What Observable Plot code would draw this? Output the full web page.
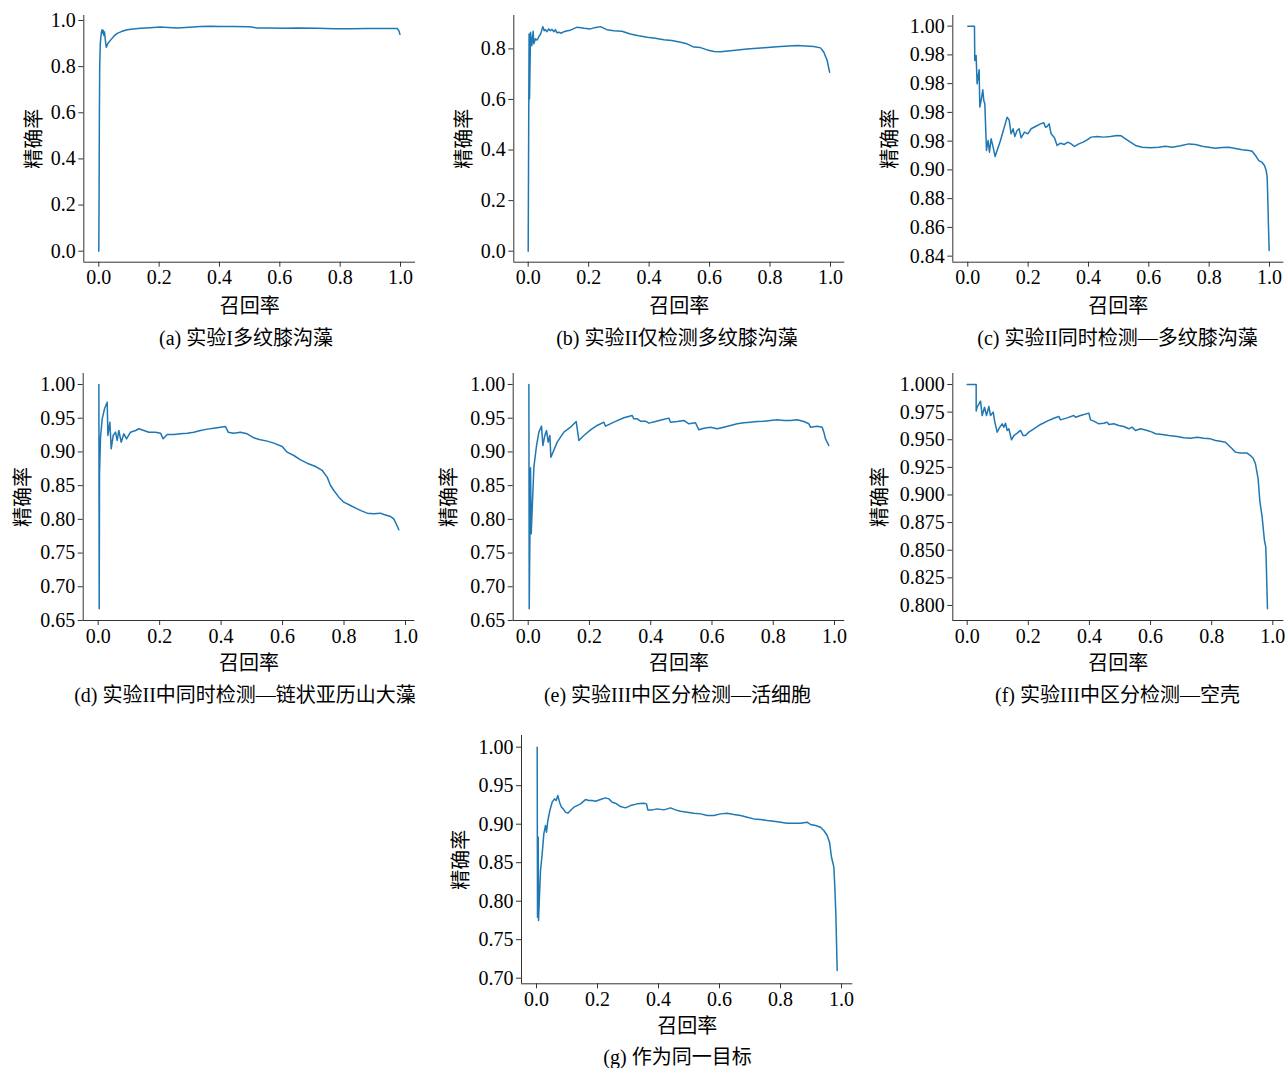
<!DOCTYPE html>
<html><head><meta charset="utf-8">
<script src="https://cdn.jsdelivr.net/npm/d3@7"></script>
<script src="https://cdn.jsdelivr.net/npm/@observablehq/plot@0.6"></script>
<style>
body{margin:0;background:#fff;}
#root{position:relative;width:1286px;height:1068px;overflow:hidden;background:#fff;}
.cap{position:absolute;width:480px;text-align:center;font-family:'Liberation Serif','Noto Sans CJK SC',serif;font-size:20px;line-height:24px;color:#000;white-space:nowrap;}
</style></head><body><div id="root"></div>
<script>
// ---- tick values and labels ----
const xTicks = [0, 0.2, 0.4, 0.6, 0.8, 1.0];
const xTickLabels = ["0.0", "0.2", "0.4", "0.6", "0.8", "1.0"];
const yTicksA = [0, 0.2, 0.4, 0.6, 0.8, 1.0];
const yTickLabelsA = ["0.0", "0.2", "0.4", "0.6", "0.8", "1.0"];
const yTicksB = [0, 0.2, 0.4, 0.6, 0.8];
const yTickLabelsB = ["0.0", "0.2", "0.4", "0.6", "0.8"];
const yTicksC = [0.84, 0.86, 0.88, 0.90, 0.92, 0.94, 0.96, 0.98, 1.00];
const yTickLabelsC = ["0.84", "0.86", "0.88", "0.90", "0.98", "0.98", "0.98", "0.98", "1.00"];
const yTicksDE = [0.65, 0.70, 0.75, 0.80, 0.85, 0.90, 0.95, 1.00];
const yTickLabelsDE = ["0.65", "0.70", "0.75", "0.80", "0.85", "0.90", "0.95", "1.00"];
const yTicksF = [0.800, 0.825, 0.850, 0.875, 0.900, 0.925, 0.950, 0.975, 1.000];
const yTickLabelsF = ["0.800", "0.825", "0.850", "0.875", "0.900", "0.925", "0.950", "0.975", "1.000"];
const yTicksG = [0.70, 0.75, 0.80, 0.85, 0.90, 0.95, 1.00];
const yTickLabelsG = ["0.70", "0.75", "0.80", "0.85", "0.90", "0.95", "1.00"];

const xLabel = "召回率";
const yLabel = "精确率";
const captions = [
  "(a) 实验I多纹膝沟藻",
  "(b) 实验II仅检测多纹膝沟藻",
  "(c) 实验II同时检测—多纹膝沟藻",
  "(d) 实验II中同时检测—链状亚历山大藻",
  "(e) 实验III中区分检测—活细胞",
  "(f) 实验III中区分检测—空壳",
  "(g) 作为同一目标"
];

// ---- series values (recall, precision) ----
const recallA = [0, 0.001, 0.002, 0.003, 0.005, 0.007, 0.009, 0.011, 0.013, 0.015, 0.017, 0.019, 0.021, 0.023, 0.025, 0.03, 0.039, 0.05, 0.061, 0.075, 0.094, 0.115, 0.138, 0.17, 0.204, 0.23, 0.26, 0.3, 0.337, 0.37, 0.403, 0.4475, 0.5, 0.525, 0.56, 0.613, 0.66, 0.724, 0.78, 0.84, 0.889, 0.94, 0.989, 0.995, 0.998];
const precisionA = [0, 0.25, 0.6, 0.8, 0.9, 0.93, 0.95, 0.96, 0.945, 0.957, 0.935, 0.95, 0.925, 0.9, 0.884, 0.9, 0.915, 0.932, 0.944, 0.952, 0.96, 0.963, 0.966, 0.969, 0.972, 0.97, 0.968, 0.971, 0.974, 0.975, 0.974, 0.974, 0.973, 0.968, 0.967, 0.966, 0.967, 0.966, 0.964, 0.964, 0.965, 0.965, 0.965, 0.955, 0.94];

const recallB = [0, 0.0015, 0.003, 0.0044, 0.0077, 0.012, 0.0165, 0.0187, 0.024, 0.03, 0.036, 0.041, 0.0485, 0.053, 0.057, 0.062, 0.068, 0.073, 0.079, 0.085, 0.09, 0.095, 0.101, 0.11, 0.118, 0.13, 0.14, 0.162, 0.185, 0.206, 0.22, 0.239, 0.26, 0.283, 0.31, 0.338, 0.365, 0.394, 0.42, 0.449, 0.475, 0.504, 0.525, 0.548, 0.57, 0.592, 0.615, 0.636, 0.669, 0.724, 0.78, 0.835, 0.89, 0.945, 0.967, 0.978, 0.989, 0.997];
const precisionB = [0, 0.45, 0.859, 0.602, 0.866, 0.813, 0.87, 0.82, 0.84, 0.835, 0.85, 0.859, 0.888, 0.872, 0.876, 0.868, 0.879, 0.872, 0.877, 0.868, 0.876, 0.864, 0.866, 0.862, 0.868, 0.872, 0.874, 0.886, 0.882, 0.879, 0.884, 0.888, 0.876, 0.872, 0.87, 0.859, 0.852, 0.846, 0.842, 0.836, 0.833, 0.826, 0.82, 0.807, 0.805, 0.796, 0.79, 0.789, 0.793, 0.8, 0.804, 0.809, 0.813, 0.809, 0.804, 0.787, 0.754, 0.708];

const recallC = [0, 0.0221, 0.0232, 0.0276, 0.0309, 0.0376, 0.0398, 0.0442, 0.0497, 0.053, 0.0564, 0.0619, 0.0674, 0.0718, 0.0773, 0.084, 0.0906, 0.1083, 0.1304, 0.137, 0.1436, 0.1503, 0.1558, 0.1635, 0.1702, 0.1768, 0.1878, 0.1989, 0.2099, 0.2243, 0.2409, 0.2519, 0.2575, 0.263, 0.2696, 0.2762, 0.2873, 0.2961, 0.3072, 0.3204, 0.3315, 0.3425, 0.3536, 0.368, 0.3823, 0.3956, 0.4088, 0.4287, 0.4508, 0.4729, 0.495, 0.5083, 0.5227, 0.5392, 0.5558, 0.5779, 0.6055, 0.6331, 0.6552, 0.6773, 0.705, 0.7326, 0.7547, 0.7768, 0.7989, 0.821, 0.8431, 0.8652, 0.8873, 0.9094, 0.9315, 0.9425, 0.9536, 0.9646, 0.9757, 0.9834, 0.989, 0.9923, 0.9945, 0.9967, 0.9989];
const precisionC = [1.0, 1.0, 0.9761, 0.9796, 0.9599, 0.9696, 0.9437, 0.9483, 0.9557, 0.9483, 0.946, 0.9135, 0.9205, 0.9123, 0.9216, 0.9158, 0.9093, 0.9205, 0.9367, 0.9348, 0.9251, 0.9286, 0.9232, 0.9274, 0.9286, 0.9223, 0.9263, 0.9251, 0.9286, 0.9302, 0.932, 0.9328, 0.9297, 0.9302, 0.932, 0.9251, 0.9223, 0.917, 0.9186, 0.9177, 0.9193, 0.9181, 0.9163, 0.9181, 0.9193, 0.9209, 0.9228, 0.9232, 0.9228, 0.9232, 0.9239, 0.9237, 0.9216, 0.9193, 0.917, 0.9158, 0.9154, 0.9158, 0.9165, 0.9158, 0.9168, 0.9181, 0.9177, 0.9165, 0.9158, 0.9151, 0.9156, 0.9158, 0.9149, 0.914, 0.9135, 0.913, 0.91, 0.9065, 0.9052, 0.9031, 0.8996, 0.895, 0.8787, 0.8602, 0.8439];

const recallD = [0.0022, 0.0033, 0.0043, 0.0076, 0.013, 0.0206, 0.0293, 0.0315, 0.038, 0.0423, 0.0488, 0.0564, 0.0618, 0.0672, 0.0748, 0.0835, 0.0922, 0.1052, 0.1215, 0.1323, 0.1486, 0.1649, 0.1866, 0.2028, 0.2115, 0.2245, 0.2462, 0.2679, 0.2896, 0.3113, 0.333, 0.3547, 0.3764, 0.398, 0.4143, 0.423, 0.4414, 0.4631, 0.4848, 0.5065, 0.5282, 0.5499, 0.5716, 0.5987, 0.615, 0.6367, 0.6584, 0.68, 0.7072, 0.7289, 0.7451, 0.756, 0.7668, 0.7831, 0.7993, 0.821, 0.8427, 0.859, 0.8753, 0.897, 0.9187, 0.9295, 0.9512, 0.962, 0.9696, 0.9783];
const precisionD = [1.0, 0.6673, 0.8675, 0.9219, 0.9491, 0.9639, 0.9738, 0.9244, 0.9441, 0.9046, 0.9244, 0.9293, 0.917, 0.9318, 0.9145, 0.9268, 0.9194, 0.9293, 0.9318, 0.9343, 0.9318, 0.9293, 0.9293, 0.9278, 0.9194, 0.9258, 0.9258, 0.9268, 0.9278, 0.9293, 0.9318, 0.9338, 0.9352, 0.9367, 0.9377, 0.9293, 0.9278, 0.9293, 0.9268, 0.9209, 0.9179, 0.916, 0.913, 0.9081, 0.8996, 0.8947, 0.8883, 0.8833, 0.8784, 0.8725, 0.8626, 0.8502, 0.8428, 0.8329, 0.8255, 0.8206, 0.8156, 0.8122, 0.8092, 0.8082, 0.8092, 0.8072, 0.8042, 0.8008, 0.7934, 0.7845];

const recallE = [0.0022, 0.0033, 0.0076, 0.0098, 0.0185, 0.0272, 0.0348, 0.0435, 0.0479, 0.0544, 0.0598, 0.0653, 0.0707, 0.074, 0.0947, 0.1164, 0.1382, 0.1567, 0.1654, 0.1817, 0.2035, 0.2252, 0.247, 0.2524, 0.2797, 0.3123, 0.3395, 0.345, 0.3558, 0.3667, 0.383, 0.3939, 0.4157, 0.4374, 0.4592, 0.4646, 0.4864, 0.5082, 0.5245, 0.5462, 0.5571, 0.5734, 0.5952, 0.617, 0.6387, 0.6605, 0.6823, 0.704, 0.7258, 0.7476, 0.7693, 0.7911, 0.8128, 0.8346, 0.8564, 0.8781, 0.8999, 0.9162, 0.9217, 0.9434, 0.9597, 0.9652, 0.9706, 0.9761, 0.9815];
const precisionE = [1.0, 0.6673, 0.8764, 0.7785, 0.8774, 0.9095, 0.9293, 0.9382, 0.9095, 0.9244, 0.9318, 0.9145, 0.9244, 0.8922, 0.9145, 0.9293, 0.9367, 0.9451, 0.917, 0.9244, 0.9328, 0.9392, 0.9441, 0.9382, 0.9441, 0.9506, 0.954, 0.9491, 0.9491, 0.9456, 0.9456, 0.9427, 0.9451, 0.9476, 0.9501, 0.9441, 0.9451, 0.9466, 0.9417, 0.9432, 0.9328, 0.9352, 0.9367, 0.9343, 0.9367, 0.9392, 0.9417, 0.9432, 0.9441, 0.9451, 0.9456, 0.9466, 0.9476, 0.9466, 0.9466, 0.9476, 0.9451, 0.9417, 0.9367, 0.9382, 0.9367, 0.9293, 0.9194, 0.9145, 0.9095];

const recallF = [0, 0.0294, 0.0294, 0.0327, 0.0436, 0.0491, 0.0567, 0.0632, 0.0709, 0.0763, 0.0851, 0.0905, 0.0981, 0.1069, 0.1145, 0.12, 0.1254, 0.1309, 0.1363, 0.145, 0.1527, 0.1636, 0.1745, 0.1832, 0.1908, 0.2017, 0.2181, 0.2399, 0.2617, 0.2835, 0.2999, 0.3053, 0.3272, 0.349, 0.3544, 0.3708, 0.398, 0.4035, 0.4144, 0.4308, 0.4471, 0.458, 0.4635, 0.4798, 0.4962, 0.5125, 0.5289, 0.5398, 0.5507, 0.5671, 0.5889, 0.6052, 0.6161, 0.6379, 0.6598, 0.687, 0.7088, 0.7306, 0.7525, 0.7743, 0.7961, 0.8124, 0.8288, 0.8451, 0.856, 0.8669, 0.8778, 0.8942, 0.916, 0.9269, 0.9356, 0.9433, 0.952, 0.9575, 0.9651, 0.9727, 0.9771, 0.9793, 0.9826];
const precisionF = [1.0, 1.0, 0.9759, 0.9795, 0.9849, 0.9719, 0.9795, 0.9719, 0.9801, 0.9719, 0.975, 0.9659, 0.9569, 0.9614, 0.9644, 0.9614, 0.965, 0.9584, 0.9599, 0.9499, 0.9538, 0.956, 0.9584, 0.9538, 0.9538, 0.9569, 0.9599, 0.9638, 0.9668, 0.9695, 0.971, 0.968, 0.9698, 0.9719, 0.9704, 0.9719, 0.9741, 0.968, 0.9668, 0.9644, 0.965, 0.9659, 0.9638, 0.9644, 0.9629, 0.962, 0.9599, 0.9614, 0.9584, 0.9599, 0.9584, 0.9569, 0.9554, 0.9548, 0.9538, 0.9529, 0.9517, 0.9514, 0.9523, 0.9514, 0.9508, 0.9493, 0.9487, 0.9478, 0.9448, 0.9418, 0.9388, 0.9379, 0.9379, 0.9357, 0.9333, 0.9282, 0.9146, 0.895, 0.8799, 0.8588, 0.8528, 0.8317, 0.797];

const recallG = [0.0022, 0.0033, 0.0055, 0.0066, 0.0131, 0.0186, 0.024, 0.0295, 0.0328, 0.0372, 0.0437, 0.0514, 0.059, 0.0645, 0.0699, 0.0754, 0.082, 0.0874, 0.0951, 0.1027, 0.1115, 0.1224, 0.1333, 0.1443, 0.1607, 0.1716, 0.1825, 0.1934, 0.2098, 0.2262, 0.2372, 0.2481, 0.259, 0.2754, 0.2918, 0.3082, 0.3301, 0.3519, 0.3607, 0.365, 0.3792, 0.3956, 0.4175, 0.4393, 0.4557, 0.4721, 0.494, 0.5158, 0.5377, 0.5596, 0.5814, 0.6033, 0.6251, 0.647, 0.6689, 0.6907, 0.7126, 0.7344, 0.7563, 0.7781, 0.8, 0.8219, 0.8437, 0.8656, 0.8874, 0.8984, 0.9148, 0.9311, 0.9421, 0.953, 0.9607, 0.9672, 0.9749, 0.9781, 0.9814, 0.9858];
const precisionG = [1.0, 0.7792, 0.8831, 0.7749, 0.8398, 0.8615, 0.8874, 0.8983, 0.8896, 0.9048, 0.9177, 0.9286, 0.9329, 0.9307, 0.9372, 0.9286, 0.9221, 0.9199, 0.9156, 0.9143, 0.9177, 0.9221, 0.9242, 0.9264, 0.932, 0.9307, 0.9307, 0.9299, 0.932, 0.9342, 0.9329, 0.9286, 0.9273, 0.9229, 0.9212, 0.9242, 0.9264, 0.9273, 0.9264, 0.9186, 0.9186, 0.9199, 0.9186, 0.9212, 0.9186, 0.9169, 0.9156, 0.9143, 0.9134, 0.9113, 0.9113, 0.9134, 0.9143, 0.9126, 0.9113, 0.9091, 0.9069, 0.9061, 0.9048, 0.9039, 0.9026, 0.9013, 0.9013, 0.9013, 0.9026, 0.8996, 0.8983, 0.8961, 0.8918, 0.8853, 0.8766, 0.8571, 0.8442, 0.8182, 0.7835, 0.71];

// ---- layout (page pixels) ----
const panels = [
  {recall: recallA, precision: precisionA, yTicks: yTicksA, yLabels: yTickLabelsA, caption: captions[0],
   box: [0, 0, 430, 320], frame: [83.3, 415, 15, 261.7], xDomain: [-0.0497, 1.0497], yDomain: [-0.0477, 1.0217],
   xlo: 51, ylo: 57, cap: [246, 338]},
  {recall: recallB, precision: precisionB, yTicks: yTicksB, yLabels: yTickLabelsB, caption: captions[1],
   box: [430, 0, 430, 320], frame: [513.3, 844.3, 15, 261.7], xDomain: [-0.0476, 1.0473], yDomain: [-0.0435, 0.932],
   xlo: 51, ylo: 57, cap: [677, 338]},
  {recall: recallC, precision: precisionC, yTicks: yTicksC, yLabels: yTickLabelsC, caption: captions[2],
   box: [860, 0, 426, 320], frame: [952.3, 1283.3, 15, 261.7], xDomain: [-0.0497, 1.0474], yDomain: [0.8358, 1.0074],
   xlo: 51, ylo: 70.5, cap: [1117.5, 338]},
  {recall: recallD, precision: precisionD, yTicks: yTicksDE, yLabels: yTickLabelsDE, caption: captions[3],
   box: [0, 360, 430, 320], frame: [82.7, 414.3, 373, 620], xDomain: [-0.0488, 1.0303], yDomain: [0.65, 1.0163],
   xlo: 49, ylo: 67.5, cap: [245, 695]},
  {recall: recallE, precision: precisionE, yTicks: yTicksDE, yLabels: yTickLabelsDE, caption: captions[4],
   box: [430, 360, 430, 320], frame: [512.7, 844.3, 373, 620], xDomain: [-0.049, 1.0336], yDomain: [0.65, 1.0163],
   xlo: 49, ylo: 71, cap: [677.5, 695]},
  {recall: recallF, precision: precisionF, yTicks: yTicksF, yLabels: yTickLabelsF, caption: captions[5],
   box: [860, 360, 426, 320], frame: [952.3, 1283.3, 373, 620], xDomain: [-0.0471, 1.036], yDomain: [0.7864, 1.00995],
   xlo: 49, ylo: 80.5, cap: [1117.5, 695]},
  {recall: recallG, precision: precisionG, yTicks: yTicksG, yLabels: yTickLabelsG, caption: captions[6],
   box: [430, 720, 430, 320], frame: [521, 852.3, 735, 983.3], xDomain: [-0.0492, 1.037], yDomain: [0.6927, 1.0152],
   xlo: 49, ylo: 67.5, cap: [677.5, 1056.7]}
];

const root = document.getElementById("root");
const font = "'Liberation Serif', 'Noto Sans CJK SC', serif";
const lineColor = "#1f77b4";
const axisColor = "#333";

for (const p of panels) {
  const [bl, bt, bw, bh] = p.box;
  const [fl, fr, ft, fb] = p.frame;
  const n = Math.min(p.recall.length, p.precision.length);
  const data = d3.range(n).map(i => ({r: p.recall[i], p: p.precision[i]}));
  const xFmt = d => xTickLabels[xTicks.indexOf(d)];
  const yFmt = d => p.yLabels[p.yTicks.indexOf(d)];
  const chart = Plot.plot({
    width: bw, height: bh,
    marginLeft: fl - bl, marginRight: bl + bw - fr,
    marginTop: ft - bt, marginBottom: bt + bh - fb,
    x: {domain: p.xDomain},
    y: {domain: p.yDomain},
    style: {fontFamily: font, fontSize: "20px", color: "#000", background: "transparent", overflow: "visible"},
    marks: [
      Plot.line(data, {x: "r", y: "p", stroke: lineColor, strokeWidth: 1.5}),
      Plot.ruleX([p.xDomain[0]], {stroke: axisColor, strokeWidth: 1}),
      Plot.ruleY([p.yDomain[0]], {stroke: axisColor, strokeWidth: 1}),
      Plot.axisX({ticks: xTicks, tickFormat: xFmt, tickSize: 5, tickPadding: 3, stroke: axisColor,
        label: xLabel, labelAnchor: "center", labelArrow: "none", labelOffset: p.xlo}),
      Plot.axisY({ticks: p.yTicks, tickFormat: yFmt, tickSize: 5, tickPadding: 3, stroke: axisColor,
        label: yLabel, labelAnchor: "center", labelArrow: "none", labelOffset: p.ylo})
    ]
  });
  chart.style.position = "absolute";
  chart.style.left = bl + "px";
  chart.style.top = bt + "px";
  chart.style.maxWidth = "none";
  root.appendChild(chart);
  const cap = document.createElement("div");
  cap.className = "cap";
  cap.textContent = p.caption;
  cap.style.left = (p.cap[0] - 240) + "px";
  cap.style.top = (p.cap[1] - 12) + "px";
  root.appendChild(cap);
}
</script></body></html>
